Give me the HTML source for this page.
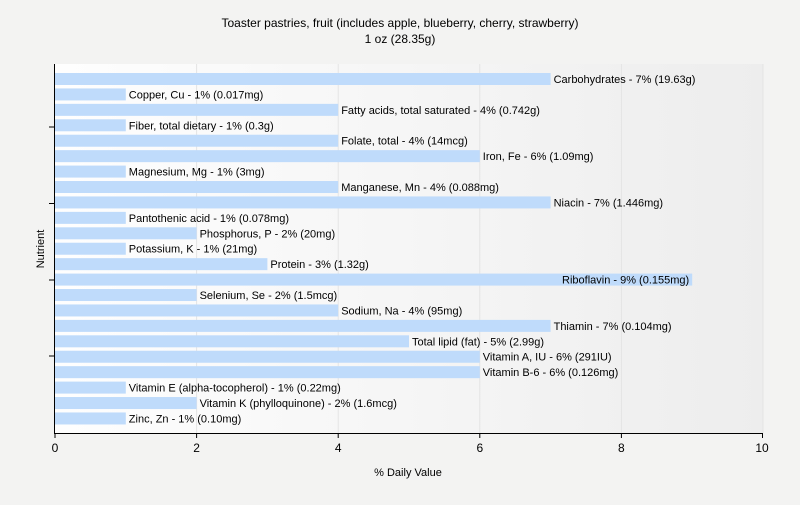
<!DOCTYPE html><html><head><style>body{margin:0;background:#f3f3f2}</style></head><body>
<svg width="800" height="500" xmlns="http://www.w3.org/2000/svg" font-family="Liberation Sans, sans-serif">
<defs><linearGradient id="g" x1="0" x2="1"><stop offset="0" stop-color="#fefefe"/><stop offset="1" stop-color="#ededed"/></linearGradient></defs>
<rect width="800" height="500" fill="#f3f3f2"/>
<rect x="55" y="64" width="708" height="369" fill="url(#g)"/>
<g stroke="#e4e4e4"><line x1="196.6" y1="64" x2="196.6" y2="433"/><line x1="338.2" y1="64" x2="338.2" y2="433"/><line x1="479.8" y1="64" x2="479.8" y2="433"/><line x1="621.4" y1="64" x2="621.4" y2="433"/><line x1="763" y1="64" x2="763" y2="433"/></g>
<text x="400" y="27" font-size="12" text-anchor="middle">Toaster pastries, fruit (includes apple, blueberry, cherry, strawberry)</text>
<text x="400" y="43" font-size="12" text-anchor="middle">1 oz (28.35g)</text>
<g fill="#bfdbfb">
<rect x="55" y="73" width="495.6" height="12"/>
<rect x="55" y="88.43" width="70.8" height="12"/>
<rect x="55" y="103.86" width="283.2" height="12"/>
<rect x="55" y="119.29" width="70.8" height="12"/>
<rect x="55" y="134.72" width="283.2" height="12"/>
<rect x="55" y="150.15" width="424.8" height="12"/>
<rect x="55" y="165.58" width="70.8" height="12"/>
<rect x="55" y="181.01" width="283.2" height="12"/>
<rect x="55" y="196.44" width="495.6" height="12"/>
<rect x="55" y="211.87" width="70.8" height="12"/>
<rect x="55" y="227.3" width="141.6" height="12"/>
<rect x="55" y="242.73" width="70.8" height="12"/>
<rect x="55" y="258.16" width="212.4" height="12"/>
<rect x="55" y="273.59" width="637.2" height="12"/>
<rect x="55" y="289.02" width="141.6" height="12"/>
<rect x="55" y="304.45" width="283.2" height="12"/>
<rect x="55" y="319.88" width="495.6" height="12"/>
<rect x="55" y="335.31" width="354" height="12"/>
<rect x="55" y="350.74" width="424.8" height="12"/>
<rect x="55" y="366.17" width="424.8" height="12"/>
<rect x="55" y="381.6" width="70.8" height="12"/>
<rect x="55" y="397.03" width="141.6" height="12"/>
<rect x="55" y="412.46" width="70.8" height="12"/>
</g>
<g font-size="11">
<text x="553.6" y="83">Carbohydrates - 7% (19.63g)</text>
<text x="128.8" y="98.43">Copper, Cu - 1% (0.017mg)</text>
<text x="341.2" y="113.86">Fatty acids, total saturated - 4% (0.742g)</text>
<text x="128.8" y="129.29">Fiber, total dietary - 1% (0.3g)</text>
<text x="341.2" y="144.72">Folate, total - 4% (14mcg)</text>
<text x="482.8" y="160.15">Iron, Fe - 6% (1.09mg)</text>
<text x="128.8" y="175.58">Magnesium, Mg - 1% (3mg)</text>
<text x="341.2" y="191.01">Manganese, Mn - 4% (0.088mg)</text>
<text x="553.6" y="206.44">Niacin - 7% (1.446mg)</text>
<text x="128.8" y="221.87">Pantothenic acid - 1% (0.078mg)</text>
<text x="199.6" y="237.3">Phosphorus, P - 2% (20mg)</text>
<text x="128.8" y="252.73">Potassium, K - 1% (21mg)</text>
<text x="270.4" y="268.16">Protein - 3% (1.32g)</text>
<text x="689.2" y="283.59" text-anchor="end">Riboflavin - 9% (0.155mg)</text>
<text x="199.6" y="299.02">Selenium, Se - 2% (1.5mcg)</text>
<text x="341.2" y="314.45">Sodium, Na - 4% (95mg)</text>
<text x="553.6" y="329.88">Thiamin - 7% (0.104mg)</text>
<text x="412" y="345.31">Total lipid (fat) - 5% (2.99g)</text>
<text x="482.8" y="360.74">Vitamin A, IU - 6% (291IU)</text>
<text x="482.8" y="376.17">Vitamin B-6 - 6% (0.126mg)</text>
<text x="128.8" y="391.6">Vitamin E (alpha-tocopherol) - 1% (0.22mg)</text>
<text x="199.6" y="407.03">Vitamin K (phylloquinone) - 2% (1.6mcg)</text>
<text x="128.8" y="422.46">Zinc, Zn - 1% (0.10mg)</text>
</g>
<g stroke="#000"><line x1="54.5" y1="64" x2="54.5" y2="434"/><line x1="54" y1="433.5" x2="763" y2="433.5"/>
<line x1="49" y1="127" x2="54" y2="127"/><line x1="49" y1="280" x2="54" y2="280"/><line x1="49" y1="356" x2="54" y2="356"/><line x1="49" y1="203.5" x2="54" y2="203.5"/>
<line x1="55" y1="433" x2="55" y2="438"/><line x1="196.6" y1="433" x2="196.6" y2="438"/><line x1="338.2" y1="433" x2="338.2" y2="438"/><line x1="479.8" y1="433" x2="479.8" y2="438"/><line x1="621.4" y1="433" x2="621.4" y2="438"/><line x1="762.5" y1="433" x2="762.5" y2="438"/></g>
<g font-size="12" text-anchor="middle"><text x="55" y="452">0</text><text x="196.6" y="452">2</text><text x="338.2" y="452">4</text><text x="479.8" y="452">6</text><text x="621.4" y="452">8</text><text x="762" y="452">10</text></g>
<text x="408" y="476" font-size="11" text-anchor="middle">% Daily Value</text>
<text transform="translate(44,249) rotate(-90)" font-size="11" text-anchor="middle">Nutrient</text>
</svg></body></html>
